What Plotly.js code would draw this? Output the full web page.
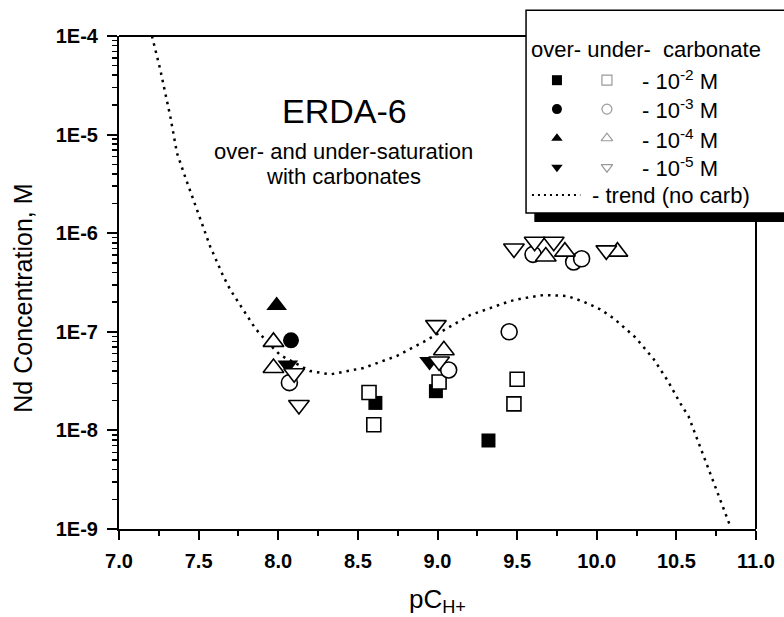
<!DOCTYPE html>
<html>
<head>
<meta charset="utf-8">
<script src="https://cdn.plot.ly/plotly-3.0.1.min.js"></script>
<style>html,body{margin:0;padding:0;background:#fff;}#chart{width:784px;height:617px;}</style>
</head>
<body>
<div id="chart"></div>
<script>
// ---- data ----
const overSqX = [8.61, 8.99, 9.32];
const overSqY = [1.9e-8, 2.5e-8, 7.9e-9];
const overCirX = [8.08];
const overCirY = [8.2e-8];
const overTriUpX = [7.99];
const overTriUpY = [1.85e-7];
const overTriDnX = [8.06, 8.95];
const overTriDnY = [4.6e-8, 5.0e-8];

const underSqX = [8.57, 8.60, 9.01, 9.50, 9.48];
const underSqY = [2.42e-8, 1.14e-8, 3.1e-8, 3.3e-8, 1.86e-8];
const underCirX = [8.07, 9.07, 9.45, 9.60, 9.855, 9.905];
const underCirY = [3.05e-8, 4.1e-8, 1.0e-7, 6.1e-7, 5.1e-7, 5.5e-7];
const underTriUpX = [7.97, 7.97, 9.04, 9.68, 9.80, 10.13];
const underTriUpY = [7.9e-8, 4.3e-8, 6.5e-8, 5.8e-7, 6.5e-7, 6.5e-7];
const underTriDnX = [8.10, 8.13, 8.99, 9.01, 9.48, 9.61, 9.73, 10.06];
const underTriDnY = [3.8e-8, 1.81e-8, 1.17e-7, 5.0e-8, 7.0e-7, 8.2e-7, 8.2e-7, 6.7e-7];

const trendX = [7.207, 7.26, 7.323, 7.364, 7.416, 7.49, 7.573, 7.657, 7.70, 7.856, 7.93, 8.013, 8.20, 8.327, 8.536, 8.746, 8.913, 9.206, 9.331, 9.457, 9.54, 9.666, 9.813, 9.918, 10.022, 10.106, 10.242, 10.357, 10.445, 10.525, 10.577, 10.839];
const trendY = [1.0e-4, 4.5e-5, 1.5e-5, 6.5e-6, 3.7e-6, 1.75e-6, 7.3e-7, 3.6e-7, 2.65e-7, 1.08e-7, 7.9e-8, 5.8e-8, 4.0e-8, 3.7e-8, 4.3e-8, 5.7e-8, 7.9e-8, 1.48e-7, 1.73e-7, 2.05e-7, 2.19e-7, 2.36e-7, 2.31e-7, 2.02e-7, 1.69e-7, 1.37e-7, 8.8e-8, 5.3e-8, 3.2e-8, 1.88e-8, 1.38e-8, 1.06e-9];

const yTickVals = [1e-9, 1e-8, 1e-7, 1e-6, 1e-5, 1e-4];
const yTickText = ['1E-9', '1E-8', '1E-7', '1E-6', '1E-5', '1E-4'];
const legendLabels = ['- 10<sup>-2</sup> M', '- 10<sup>-3</sup> M', '- 10<sup>-4</sup> M', '- 10<sup>-5</sup> M'];
const legendSymbols = ['square', 'circle', 'triangle-up', 'triangle-down'];
const legendHeader = 'over- under-&nbsp; carbonate';
const legendTrendLabel = '- trend (no carb)';
const yTitle = 'Nd Concentration, M';
const xTitle = 'pC<sub>H+</sub>';

// ---- styling / layout constants ----
const FONT = 'Arial, "Liberation Sans", sans-serif';
const minorVals = [];
for (let e = -9; e < -4; e++) for (let m = 2; m <= 9; m++) minorVals.push(m * Math.pow(10, e));

function filled(x, y, sym, size) {
  return {x, y, type: 'scatter', mode: 'markers', showlegend: false, cliponaxis: false,
    marker: {symbol: sym, size: size, color: '#000', line: {width: 0}}};
}
function open(x, y, sym, size) {
  return {x, y, type: 'scatter', mode: 'markers', showlegend: false, cliponaxis: false,
    marker: {symbol: sym, size: size, color: '#fff', line: {width: 1.6, color: '#000'}}};
}

const traces = [
  {x: trendX, y: trendY, type: 'scatter', mode: 'lines', showlegend: false,
   line: {color: '#000', width: 2.5, dash: '2.5px,5px'}},
  filled(overSqX, overSqY, 'square', 14),
  filled(overCirX, overCirY, 'circle', 16),
  filled(overTriUpX, overTriUpY, 'triangle-up', 18),
  filled(overTriDnX, overTriDnY, 'triangle-down', 18),
  open(underSqX, underSqY, 'square', 14),
  open(underCirX, underCirY, 'circle', 16),
  open(underTriUpX, underTriUpY, 'triangle-up', 18),
  open(underTriDnX, underTriDnY, 'triangle-down', 18)
];

// legend key (inset axes x2/y2, range 0..1)
const legRowY = [0.751, 0.588, 0.424, 0.261];
const legFilledX = 0.132, legOpenX = 0.35;
legendSymbols.forEach((s, i) => {
  traces.push({x: [legFilledX], y: [legRowY[i]], xaxis: 'x2', yaxis: 'y2', type: 'scatter', mode: 'markers',
    showlegend: false, cliponaxis: false, marker: {symbol: s, size: 10, color: '#000', line: {width: 0}}});
  traces.push({x: [legOpenX], y: [legRowY[i]], xaxis: 'x2', yaxis: 'y2', type: 'scatter', mode: 'markers',
    showlegend: false, cliponaxis: false, marker: {symbol: s, size: 10, color: '#fff', line: {width: 1.2, color: '#999'}}});
});
traces.push({x: [0.023, 0.234], y: [0.104, 0.104], xaxis: 'x2', yaxis: 'y2', type: 'scatter', mode: 'lines',
  showlegend: false, cliponaxis: false, line: {color: '#000', width: 2, dash: '2px,4px'}});

const annRowY = [0.910, 0.851, 0.792, 0.734];
const annotations = [
  {text: 'ERDA-6', xref: 'paper', yref: 'paper', x: 0.354, y: 0.847, showarrow: false,
   font: {family: FONT, size: 34, color: '#000'}, xanchor: 'center', yanchor: 'middle'},
  {text: 'over- and under-saturation', xref: 'paper', yref: 'paper', x: 0.352, y: 0.765, showarrow: false,
   font: {family: FONT, size: 22, color: '#000'}, xanchor: 'center', yanchor: 'middle'},
  {text: 'with carbonates', xref: 'paper', yref: 'paper', x: 0.352, y: 0.714, showarrow: false,
   font: {family: FONT, size: 22, color: '#000'}, xanchor: 'center', yanchor: 'middle'},
  {text: legendHeader, xref: 'paper', yref: 'paper', x: 0.643, y: 0.973, showarrow: false,
   font: {family: FONT, size: 22, color: '#000'}, xanchor: 'left', yanchor: 'middle'},
  {text: legendTrendLabel, xref: 'paper', yref: 'paper', x: 0.740, y: 0.677, showarrow: false,
   font: {family: FONT, size: 22, color: '#000'}, xanchor: 'left', yanchor: 'middle'},
  {text: yTitle, xref: 'paper', yref: 'paper', x: -0.150, y: 0.468, showarrow: false, textangle: -90,
   font: {family: FONT, size: 25, color: '#000'}, xanchor: 'center', yanchor: 'middle'}
];
legendLabels.forEach((t, i) => annotations.push({text: t, xref: 'paper', yref: 'paper', x: 0.818, y: annRowY[i],
  showarrow: false, font: {family: FONT, size: 22, color: '#000'}, xanchor: 'left', yanchor: 'middle'}));

const shapes = [
  {type: 'line', xref: 'paper', yref: 'paper', x0: 0, x1: 1, y0: 1, y1: 1, layer: 'below', line: {color: '#000', width: 2}},
  {type: 'line', xref: 'paper', yref: 'paper', x0: 1, x1: 1, y0: 0, y1: 1, layer: 'below', line: {color: '#000', width: 2}},
  {type: 'rect', xref: 'paper', yref: 'paper', x0: 0.639, x1: 1.08, y0: 0.641, y1: 1.052, layer: 'below', fillcolor: '#fff', line: {color: '#000', width: 1.5}},
  {type: 'line', xref: 'paper', yref: 'paper', x0: 0.652, x1: 1.1, y0: 0.632, y1: 0.632, layer: 'above', line: {color: '#000', width: 9}}
];

const layout = {
  width: 784, height: 617,
  margin: {l: 119, r: 28, t: 36, b: 88},
  paper_bgcolor: '#fff', plot_bgcolor: 'rgba(0,0,0,0)',
  showlegend: false,
  font: {family: FONT, color: '#000'},
  xaxis: {
    range: [7, 11], tick0: 7, dtick: 0.5, tickformat: '.1f',
    ticks: 'outside', ticklen: 9, tickwidth: 2, tickcolor: '#000', ticklabelstandoff: 4,
    minor: {dtick: 0.25, tick0: 7, ticks: 'outside', ticklen: 5, tickwidth: 2, tickcolor: '#000', showgrid: false},
    showline: true, linewidth: 2, linecolor: '#000', showgrid: false, zeroline: false,
    tickfont: {family: FONT, size: 20, color: '#000', weight: 'bold'},
    title: {text: xTitle, font: {family: FONT, size: 26, color: '#000'}, standoff: 24},
    automargin: false
  },
  yaxis: {
    type: 'log', range: [-9, -4],
    tickmode: 'array', tickvals: yTickVals, ticktext: yTickText,
    ticks: 'outside', ticklen: 10, tickwidth: 2, tickcolor: '#000', ticklabelstandoff: 5,
    minor: {tickmode: 'array', tickvals: minorVals, ticks: 'outside', ticklen: 5, tickwidth: 1.5, tickcolor: '#000', showgrid: false},
    showline: true, linewidth: 2, linecolor: '#000', showgrid: false, zeroline: false,
    tickfont: {family: FONT, size: 20, color: '#000', weight: 'bold'},
    automargin: false
  },
  xaxis2: {domain: [0.64, 1], range: [0, 1], anchor: 'y2', visible: false, fixedrange: true},
  yaxis2: {domain: [0.64, 1], range: [0, 1], anchor: 'x2', visible: false, fixedrange: true},
  annotations: annotations,
  shapes: shapes
};

Plotly.newPlot('chart', traces, layout, {displayModeBar: false, staticPlot: true});
</script>
</body>
</html>
